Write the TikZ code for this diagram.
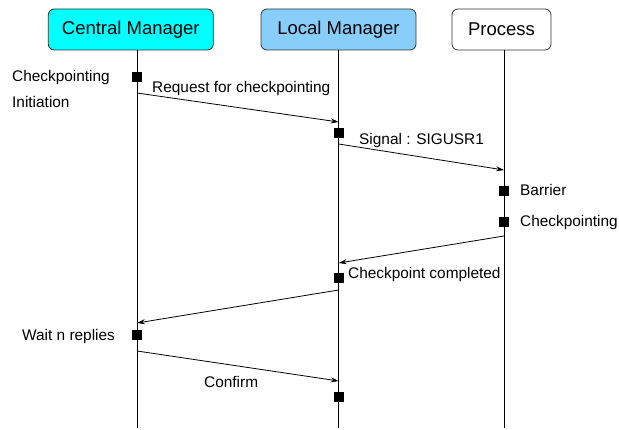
\documentclass[tikz,border=0pt]{standalone}
\usepackage{fontspec}
\setmainfont{Liberation Sans}
\usetikzlibrary{arrows.meta}
\definecolor{cmfill}{RGB}{0,255,255}
\definecolor{lmfill}{RGB}{135,206,250}
\begin{document}
\begin{tikzpicture}[x=1pt,y=-1pt,
  actor/.style={draw=black!80, rectangle, rounded corners=6pt, line width=0.8pt,
    inner sep=0pt, minimum height=41pt, font=\fontsize{18.5}{20}\selectfont},
  life/.style={line width=0.8pt},
  act/.style={fill=black, rectangle, minimum size=10pt, inner sep=0pt},
  msg/.style={line width=0.8pt, -{Stealth[length=8pt,width=5pt]}},
  lbl/.style={font=\fontsize{15.4}{17}\selectfont, inner sep=0pt, anchor=base west}]
\useasboundingbox (0,0) rectangle (619,430);

% participants
\node[actor, fill=cmfill, minimum width=165pt] (cm) at (130.8,29.5) {Central Manager};
\node[actor, fill=lmfill, minimum width=155pt] (lm) at (338.5,29.5) {Local Manager};
\node[actor, fill=white, minimum width=99pt] (pr) at (501.5,29.5) {Process};

% lifelines
\coordinate (cmEnd) at (137,428);
\coordinate (lmEnd) at (338.7,428);
\coordinate (prEnd) at (504,428);
\draw[life] (cmEnd |- cm.south) -- (cmEnd);
\draw[life] (lmEnd |- lm.south) -- (lmEnd);
\draw[life] (prEnd |- pr.south) -- (prEnd);

% activation marks
\node[act] (cmA) at (137,77) {};
\node[act] (lmA) at (338.7,133.5) {};
\node[act] (prA) at (504,191) {};
\node[act] (prB) at (504,222) {};
\node[act] (lmB) at (338.7,278.5) {};
\node[act] (cmB) at (137,335.5) {};
\node[act] (lmC) at (338.7,397.5) {};

% message end points on the lifelines
\coordinate (m1s) at (137,93);
\coordinate (m1e) at (338.7,122);
\coordinate (m2s) at (338.7,144);
\coordinate (m2e) at (504,170);
\coordinate (m3s) at (504,236);
\coordinate (m3e) at (338.7,263);
\coordinate (m4s) at (338.7,290);
\coordinate (m4e) at (137,323);
\coordinate (m5s) at (137,351);
\coordinate (m5e) at (338.7,381);

% messages
\draw[msg] (m1s) -- (m1e);
\draw[msg] (m2s) -- (m2e);
\draw[msg] (m3s) -- (m3e);
\draw[msg] (m4s) -- (m4e);
\draw[msg] (m5s) -- (m5e);

% labels
\node[lbl] (t1) at (12,82) {Checkpointing};
\node[lbl] (t2) at (12,108) {Initiation};
\node[lbl] (t3) at (152,93) {Request for checkpointing};
\node[lbl] (t4) at (359,145) {Signal : SIGUSR1};
\node[lbl] (t5) at (520,196) {Barrier};
\node[lbl] (t6) at (520,227) {Checkpointing};
\node[lbl] (t7) at (348,279) {Checkpoint completed};
\node[lbl] (t8) at (22,341) {Wait n replies};
\node[lbl] (t9) at (204,388) {Confirm};
\end{tikzpicture}
\end{document}
